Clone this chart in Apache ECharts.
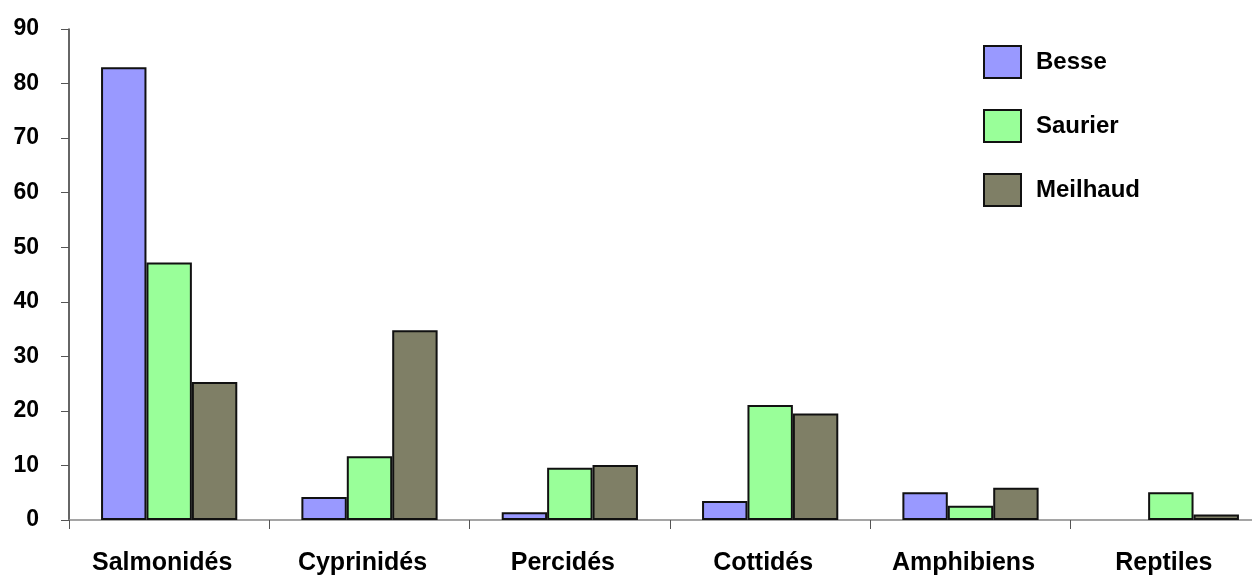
<!DOCTYPE html>
<html>
<head>
<meta charset="utf-8">
<script src="https://cdn.jsdelivr.net/npm/echarts@6/dist/echarts.min.js"></script>
<style>
  html, body { margin: 0; padding: 0; background: #fff; }
  #main { width: 1252px; height: 575px; }
</style>
</head>
<body>
<div id="main"></div>
<script>
// données
const categories = ['Salmonidés', 'Cyprinidés', 'Percidés', 'Cottidés', 'Amphibiens', 'Reptiles'];
const besse = [83, 4.2, 1.4, 3.5, 5.1, 0];
const saurier = [47.2, 11.7, 9.6, 21.1, 2.6, 5.1];
const meilhaud = [25.3, 34.8, 10.1, 19.5, 5.9, 1.0];
const yTicks = [0, 10, 20, 30, 40, 50, 60, 70, 80, 90];

const font = '"Liberation Sans", Arial, sans-serif';

function bar(name, data, color) {
  return {
    name: name,
    type: 'bar',
    // une valeur nulle n'est pas dessinée dans l'original
    data: data.map(v => (v === 0 ? '-' : v)),
    barGap: '0%',
    barCategoryGap: '32%',
    itemStyle: { color: color, borderColor: '#111', borderWidth: 2 }
  };
}

const myChart = echarts.init(document.getElementById('main'));
myChart.setOption({
  backgroundColor: '#fff',
  animation: false,
  // la dernière catégorie dépasse du cadre dans l'original
  grid: { left: 69, top: 29, width: 1202, height: 491, outerBoundsMode: 'none' },
  legend: {
    orient: 'vertical',
    left: 983,
    top: 45,
    padding: 0,
    icon: 'rect',
    itemWidth: 37,
    itemHeight: 32,
    itemGap: 30,
    textStyle: { fontFamily: font, fontWeight: 'bold', fontSize: 24, color: '#000', padding: [0, 0, 0, 10] }
  },
  xAxis: {
    type: 'category',
    data: categories,
    boundaryGap: true,
    axisLine: { lineStyle: { color: '#888', width: 1.5 } },
    axisTick: { show: true, length: 9, lineStyle: { color: '#555' } },
    axisLabel: {
      fontFamily: font, fontWeight: 'bold', fontSize: 25, color: '#000',
      margin: 31, padding: [0, 14, 0, 0]
    }
  },
  yAxis: {
    type: 'value',
    min: yTicks[0],
    max: yTicks[yTicks.length - 1],
    interval: 10,
    axisLine: { show: true, lineStyle: { color: '#333', width: 1.5 } },
    axisTick: { show: true, length: 8, lineStyle: { color: '#555' } },
    splitLine: { show: false },
    axisLabel: { fontFamily: font, fontWeight: 'bold', fontSize: 23, color: '#000', margin: 30 }
  },
  series: [
    bar('Besse', besse, '#9999ff'),
    bar('Saurier', saurier, '#99ff99'),
    bar('Meilhaud', meilhaud, '#7f7f66')
  ]
});
</script>
</body>
</html>
